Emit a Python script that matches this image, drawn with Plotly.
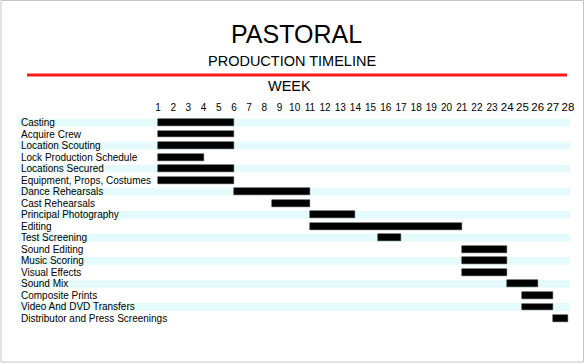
import plotly.graph_objects as go

tasks = [
    "Casting", "Acquire Crew", "Location Scouting", "Lock Production Schedule",
    "Locations Secured", "Equipment, Props, Costumes", "Dance Rehearsals",
    "Cast Rehearsals", "Principal Photography", "Editing", "Test Screening",
    "Sound Editing", "Music Scoring", "Visual Effects", "Sound Mix",
    "Composite Prints", "Video And DVD Transfers", "Distributor and Press Screenings",
]
start_week = [1, 1, 1, 1, 1, 1, 6, 8.5, 11, 11, 15.5, 21, 21, 21, 24, 25, 25, 27]
end_week = [6, 6, 6, 4, 6, 6, 11, 11, 14, 21, 17, 24, 24, 24, 26, 27, 27, 28]
weeks = list(range(1, 29))

durations = [e - s for s, e in zip(start_week, end_week)]

W, H = 585, 363
ML, MR, MT, MB = 18, 10, 115, 37
pw = W - ML - MR
ph = H - MT - MB

fig = go.Figure()
fig.add_trace(go.Bar(
    y=tasks, x=durations, base=start_week, orientation="h",
    marker=dict(color="#000000", line=dict(color="#222222", width=0.5)),
    width=0.6, showlegend=False, hoverinfo="skip",
))

def py(p):
    return (H - MB - p) / ph
def px(p):
    return (p - ML) / pw

shapes = []
for i in range(0, len(tasks), 2):
    shapes.append(dict(type="rect", xref="paper", yref="y", x0=0, x1=px(570),
                       y0=i - 0.34, y1=i + 0.34, fillcolor="#e5fbfb", line=dict(width=0),
                       layer="below"))
shapes.append(dict(type="line", xref="paper", yref="paper", x0=px(27), x1=px(567),
                   y0=py(75), y1=py(75), line=dict(color="#ff1a1a", width=3)))
shapes.append(dict(type="rect", xref="paper", yref="paper", x0=px(1), x1=px(583.5),
                   y0=py(362), y1=py(0.5), line=dict(color="#c4c4c4", width=1),
                   fillcolor="rgba(0,0,0,0)"))

font = "Liberation Sans, Arial, Helvetica, sans-serif"
annotations = [
    dict(text="PASTORAL", xref="paper", yref="paper", x=px(296), y=py(34), showarrow=False,
         font=dict(size=25, color="#000", family=font), xanchor="center", yanchor="middle"),
    dict(text="PRODUCTION TIMELINE", xref="paper", yref="paper", x=px(292), y=py(61), showarrow=False,
         font=dict(size=14.5, color="#000", family=font), xanchor="center", yanchor="middle"),
    dict(text="WEEK", xref="paper", yref="paper", x=px(289), y=py(86), showarrow=False,
         font=dict(size=14.5, color="#000", family=font), xanchor="center", yanchor="middle"),
]
for t in tasks:
    annotations.append(dict(text=t, xref="paper", yref="y", x=px(19), y=t, showarrow=False,
                            xanchor="left", yanchor="middle",
                            font=dict(size=10, color="#000", family=font)))

ticktext = [str(w) if w < 24 else '<span style="font-size:11.5px">%d</span>' % w for w in weeks]

x0px, x1px = 158, 568
slope = (x1px - x0px) / (weeks[-1] - weeks[0])
xr = [weeks[0] - (x0px - ML) / slope, weeks[-1] + (W - MR - x1px) / slope]

fig.update_layout(
    width=W, height=H, margin=dict(l=ML, r=MR, t=MT, b=MB),
    paper_bgcolor="white", plot_bgcolor="white",
    font=dict(family=font, color="#000"),
    shapes=shapes, annotations=annotations, bargap=0,
    xaxis=dict(side="top", range=xr, tickmode="array", tickvals=weeks, ticktext=ticktext,
               tickangle=0, showgrid=False, zeroline=False, showline=False, ticks="",
               ticklabelstandoff=1,
               tickfont=dict(size=10, family=font, color="#000"), fixedrange=True),
    yaxis=dict(autorange="reversed", showgrid=False, zeroline=False, showline=False, ticks="",
               showticklabels=False, fixedrange=True),
)

fig.write_html("out.html")
